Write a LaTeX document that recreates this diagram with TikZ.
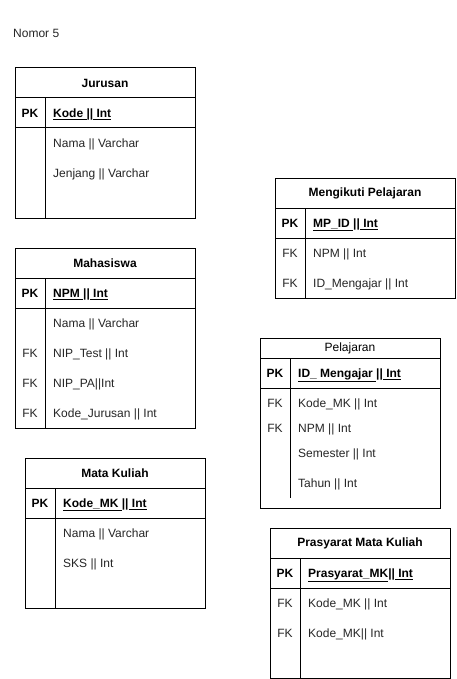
\documentclass[tikz,border=0pt]{standalone}
\usepackage{fontspec}
\setmainfont{Liberation Sans}
\begin{document}
\begin{tikzpicture}[x=1pt,y=-1pt,
  box/.style={draw=black,line width=1pt},
  ln/.style={draw=black,line width=1pt},
  ttl/.style={font=\fontsize{12}{14}\selectfont\bfseries,anchor=center,inner sep=0pt},
  key/.style={font=\fontsize{12}{14}\selectfont\bfseries,anchor=center,inner sep=0pt},
  fk/.style={font=\fontsize{12}{14}\selectfont,anchor=center,inner sep=0pt,text=black!85},
  pkf/.style={font=\fontsize{12}{14}\selectfont\bfseries,anchor=base west,inner sep=0pt},
  fld/.style={font=\fontsize{12}{14}\selectfont,anchor=base west,inner sep=0pt,text=black!85},
  lbl/.style={font=\fontsize{12}{14}\selectfont,anchor=base west,inner sep=0pt,text=black!85}]
\useasboundingbox (0,0) rectangle (456,679);
\fill[white] (0,0) rectangle (456,679);

\node[lbl] (nomor) at (13,37.3) {Nomor 5};

% Jurusan
\draw[box] (15,68) rectangle (195,218);
\draw[ln] (15,98) -- (195,98);
\draw[ln] (15,128) -- (195,128);
\draw[ln] (45,98) -- (45,218);
\node[ttl] (jur-t) at (105,83) {Jurusan};
\node[key] (jur-pk) at (30,113) {PK};
\node[pkf] (jur-k) at (53,117.3) {\underline{Kode }||\underline{ Int}};
\node[fld] (jur-1) at (53,147.3) {Nama || Varchar};
\node[fld] (jur-2) at (53,177.3) {Jenjang || Varchar};

% Mahasiswa
\draw[box] (15,248) rectangle (195,428);
\draw[ln] (15,278) -- (195,278);
\draw[ln] (15,308) -- (195,308);
\draw[ln] (45,278) -- (45,428);
\node[ttl] (mhs-t) at (105,263) {Mahasiswa};
\node[key] (mhs-pk) at (30,293) {PK};
\node[pkf] (mhs-k) at (53,297.3) {\underline{NPM }||\underline{ Int}};
\node[fld] (mhs-1) at (53,327.3) {Nama || Varchar};
\node[fk] (mhs-f2) at (30,353) {FK};
\node[fld] (mhs-2) at (53,357.3) {NIP\_Test || Int};
\node[fk] (mhs-f3) at (30,383) {FK};
\node[fld] (mhs-3) at (53,387.3) {NIP\_PA||Int};
\node[fk] (mhs-f4) at (30,413) {FK};
\node[fld] (mhs-4) at (53,417.3) {Kode\_Jurusan || Int};

% Mata Kuliah
\draw[box] (25,458) rectangle (205,608);
\draw[ln] (25,488) -- (205,488);
\draw[ln] (25,518) -- (205,518);
\draw[ln] (55,488) -- (55,608);
\node[ttl] (mk-t) at (115,473) {Mata Kuliah};
\node[key] (mk-pk) at (40,503) {PK};
\node[pkf] (mk-k) at (63,507.3) {\underline{Kode\_MK }||\underline{ Int}};
\node[fld] (mk-1) at (63,537.3) {Nama || Varchar};
\node[fld] (mk-2) at (63,567.3) {SKS || Int};

% Mengikuti Pelajaran
\draw[box] (275,178) rectangle (455,298);
\draw[ln] (275,208) -- (455,208);
\draw[ln] (275,238) -- (455,238);
\draw[ln] (305,208) -- (305,298);
\node[ttl] (mp-t) at (365,193) {Mengikuti Pelajaran};
\node[key] (mp-pk) at (290,223) {PK};
\node[pkf] (mp-k) at (313,227.3) {\underline{MP\_ID }||\underline{ Int}};
\node[fk] (mp-f1) at (290,253) {FK};
\node[fld] (mp-1) at (313,257.3) {NPM || Int};
\node[fk] (mp-f2) at (290,283) {FK};
\node[fld] (mp-2) at (313,287.3) {ID\_Mengajar || Int};

% Pelajaran
\draw[box] (260,338) rectangle (440,508);
\draw[ln] (260,358) -- (440,358);
\draw[ln] (260,388) -- (440,388);
\draw[ln] (290,358) -- (290,498);
\node[ttl,font=\fontsize{12}{14}\selectfont] (pel-t) at (350,348) {Pelajaran};
\node[key] (pel-pk) at (275,373) {PK};
\node[pkf] (pel-k) at (298,377.3) {\underline{ID\_ Mengajar }||\underline{ Int}};
\node[fk] (pel-f1) at (275,403) {FK};
\node[fld] (pel-1) at (298,407.3) {Kode\_MK || Int};
\node[fk] (pel-f2) at (275,428) {FK};
\node[fld] (pel-2) at (298,432.3) {NPM || Int};
\node[fld] (pel-3) at (298,457.3) {Semester || Int};
\node[fld] (pel-4) at (298,487.3) {Tahun || Int};

% Prasyarat Mata Kuliah
\draw[box] (270,528) rectangle (450,678);
\draw[ln] (270,558) -- (450,558);
\draw[ln] (270,588) -- (450,588);
\draw[ln] (300,558) -- (300,678);
\node[ttl] (pr-t) at (360,543) {Prasyarat Mata Kuliah};
\node[key] (pr-pk) at (285,573) {PK};
\node[pkf] (pr-k) at (308,577.3) {\underline{Prasyarat\_MK}||\underline{ Int}};
\node[fk] (pr-f1) at (285,603) {FK};
\node[fld] (pr-1) at (308,607.3) {Kode\_MK || Int};
\node[fk] (pr-f2) at (285,633) {FK};
\node[fld] (pr-2) at (308,637.3) {Kode\_MK|| Int};
\end{tikzpicture}
\end{document}
